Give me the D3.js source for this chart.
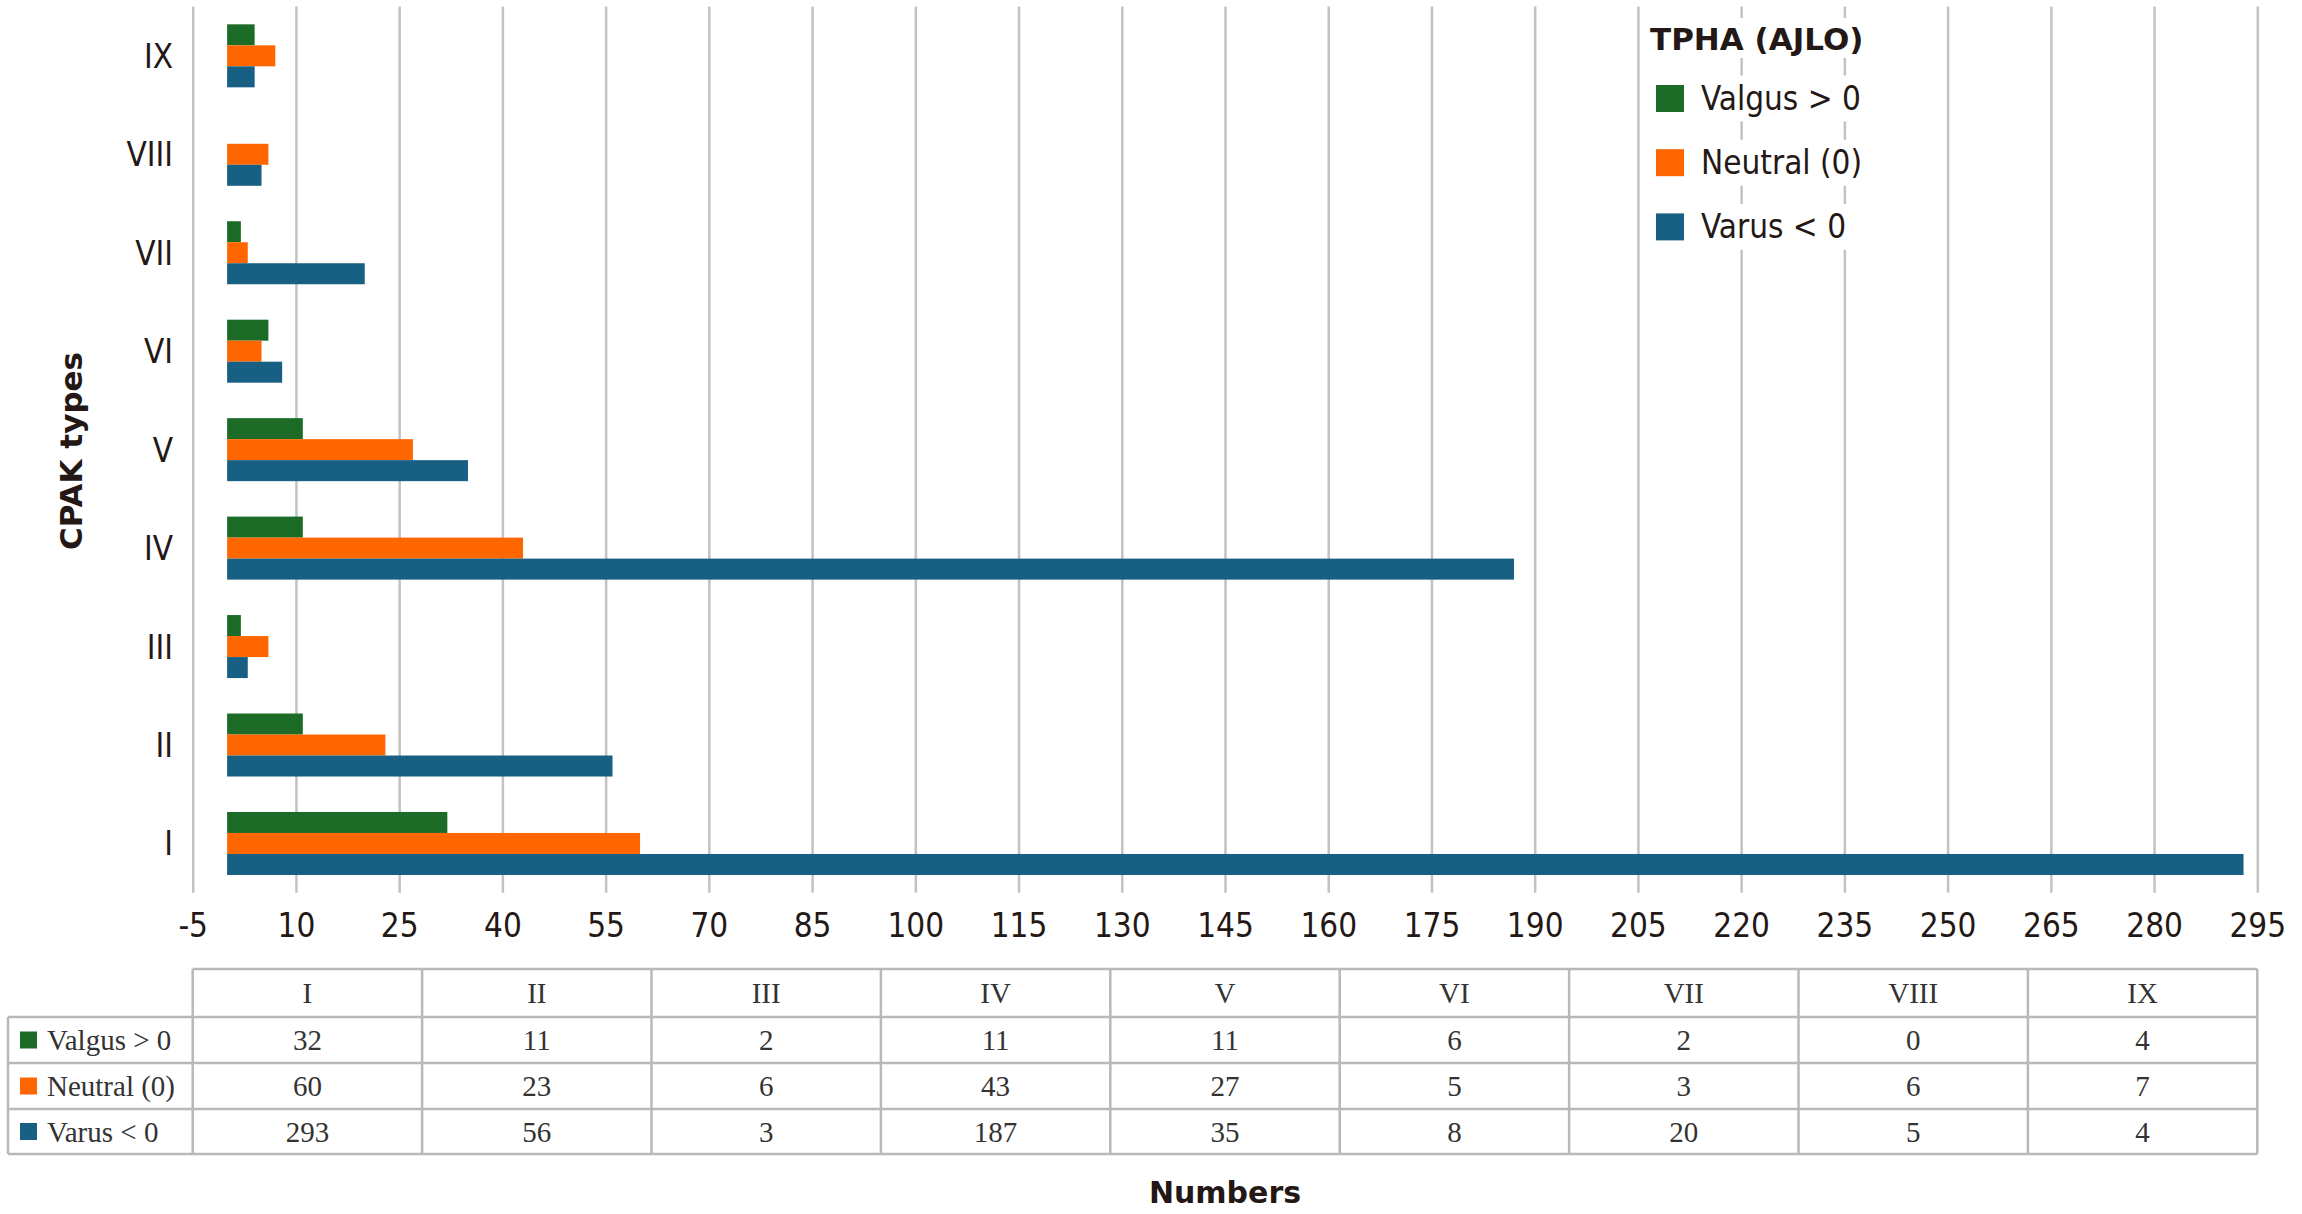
<!DOCTYPE html>
<html>
<head>
<meta charset="utf-8">
<script src="https://cdn.jsdelivr.net/npm/d3@7"></script>
<style>
  html, body { margin: 0; padding: 0; background: #fff; }
  svg { display: block; }
</style>
</head>
<body>
<svg id="chart" width="2302" height="1214"></svg>
<script>
const categories = ["I", "II", "III", "IV", "V", "VI", "VII", "VIII", "IX"];
const seriesNames = ["Valgus > 0", "Neutral (0)", "Varus < 0"];
const valgus  = [32, 11, 2, 11, 11, 6, 2, 0, 4];
const neutral = [60, 23, 6, 43, 27, 5, 3, 6, 7];
const varus   = [293, 56, 3, 187, 35, 8, 20, 5, 4];
const tickValues = [-5, 10, 25, 40, 55, 70, 85, 100, 115, 130, 145, 160, 175, 190, 205, 220, 235, 250, 265, 280, 295];
const legendTitle = "TPHA (AJLO)";
const yTitle = "CPAK types";
const xTitle = "Numbers";

const seriesValues = [valgus, neutral, varus];
const colors = ["#1c6b27", "#ff6600", "#176083"];
const textColor = "#231815";
const gridColor = "#c2c2c2";
const sansFont = "'DejaVu Sans Condensed', 'DejaVu Sans', sans-serif";
const boldFont = "'DejaVu Sans', sans-serif";
const serifFont = "'Liberation Serif', 'DejaVu Serif', serif";

const svg = d3.select("#chart");

const plotTop = 6.6, plotBottom = 892.7;
const x = d3.scaleLinear().domain([-5, 295]).range([192.7, 2257.3]);
const y = d3.scaleBand().domain(categories.slice().reverse()).range([plotTop, plotBottom]).padding(0);
const groupFrac = 0.64;
const inner = d3.scaleBand().domain(seriesNames).range([0, y.bandwidth() * groupFrac]).padding(0);

// gridlines (axis with long ticks)
const xAxis = d3.axisBottom(x).tickValues(tickValues).tickSize(plotBottom - plotTop).tickFormat(d => String(d));
const gAxis = svg.append("g").attr("transform", `translate(0,${plotTop})`).call(xAxis);
gAxis.select(".domain").remove();
gAxis.selectAll(".tick line").attr("stroke", gridColor).attr("stroke-width", 2.5);
gAxis.selectAll(".tick text")
  .attr("y", plotBottom - plotTop + 44)
  .attr("dy", 0)
  .attr("fill", textColor)
  .style("font-family", sansFont)
  .style("font-size", "33px");

// bars
const groups = svg.append("g").selectAll("g")
  .data(categories)
  .join("g")
  .attr("transform", c => `translate(0,${y(c) + (y.bandwidth() * (1 - groupFrac)) / 2})`);

groups.selectAll("rect")
  .data((c) => {
    const i = categories.indexOf(c);
    return seriesNames.map((s, k) => ({ s, k, v: seriesValues[k][i] }));
  })
  .join("rect")
  .attr("x", d => x(0))
  .attr("y", d => inner(d.s))
  .attr("width", d => Math.max(0, x(d.v) - x(0)))
  .attr("height", inner.bandwidth())
  .attr("fill", d => colors[d.k]);

// category labels
svg.append("g").selectAll("text")
  .data(categories)
  .join("text")
  .attr("x", 173)
  .attr("y", c => y(c) + y.bandwidth() / 2 + 12)
  .attr("text-anchor", "end")
  .attr("fill", textColor)
  .style("font-family", sansFont)
  .style("font-size", "33px")
  .text(c => c);

// y title
svg.append("text")
  .attr("transform", `translate(82,451) rotate(-90)`)
  .attr("text-anchor", "middle")
  .attr("fill", textColor)
  .style("font-family", boldFont)
  .style("font-weight", "bold")
  .style("font-size", "31px")
  .text(yTitle);

// x title
svg.append("text")
  .attr("x", (x(-5) + x(295)) / 2)
  .attr("y", 1203)
  .attr("text-anchor", "middle")
  .attr("fill", textColor)
  .style("font-family", boldFont)
  .style("font-weight", "bold")
  .style("font-size", "30px")
  .text(xTitle);

// legend
const legend = svg.append("g").attr("transform", "translate(1650,0)");
legend.append("rect").attr("x", -2).attr("y", 18).attr("width", 222).attr("height", 40).attr("fill", "#fff");
legend.append("text")
  .attr("x", 0).attr("y", 50)
  .attr("fill", textColor)
  .style("font-family", boldFont)
  .style("font-weight", "bold")
  .style("font-size", "31px")
  .text(legendTitle);
const legendRows = legend.selectAll("g.row")
  .data(seriesNames)
  .join("g")
  .attr("class", "row")
  .attr("transform", (d, i) => `translate(0,${98.5 + i * 64.2})`);
legendRows.append("rect").attr("x", 2).attr("y", -23).attr("width", 222).attr("height", 46).attr("fill", "#fff");
legendRows.append("rect")
  .attr("x", 6).attr("y", -13.5).attr("width", 28).attr("height", 27)
  .attr("fill", (d, i) => colors[i]);
legendRows.append("text")
  .attr("x", 51).attr("y", 11.5)
  .attr("fill", textColor)
  .style("font-family", sansFont)
  .style("font-size", "33px")
  .text(d => d);

// data table
const tableRowsY = [969, 1017, 1063, 1109, 1154];
const colBand = d3.scaleBand().domain(categories).range([x(-5), x(295)]).padding(0);
const tbl = svg.append("g");
const lineColor = "#b8b8b8";
const tLeft = 8, tRight = x(295);
// horizontal lines
tbl.append("line").attr("x1", x(-5)).attr("x2", tRight).attr("y1", tableRowsY[0]).attr("y2", tableRowsY[0]);
for (let r = 1; r < tableRowsY.length; r++) {
  tbl.append("line").attr("x1", tLeft).attr("x2", tRight).attr("y1", tableRowsY[r]).attr("y2", tableRowsY[r]);
}
// vertical lines
tbl.append("line").attr("x1", tLeft).attr("x2", tLeft).attr("y1", tableRowsY[1]).attr("y2", tableRowsY[4]);
categories.forEach(c => {
  tbl.append("line").attr("x1", colBand(c)).attr("x2", colBand(c)).attr("y1", tableRowsY[0]).attr("y2", tableRowsY[4]);
});
tbl.append("line").attr("x1", tRight).attr("x2", tRight).attr("y1", tableRowsY[0]).attr("y2", tableRowsY[4]);
tbl.selectAll("line").attr("stroke", lineColor).attr("stroke-width", 2.5);

// header
tbl.selectAll("text.hdr")
  .data(categories)
  .join("text")
  .attr("class", "hdr")
  .attr("x", c => colBand(c) + colBand.bandwidth() / 2)
  .attr("y", (tableRowsY[0] + tableRowsY[1]) / 2 + 10)
  .attr("text-anchor", "middle")
  .attr("fill", "#333")
  .style("font-family", serifFont)
  .style("font-size", "29px")
  .text(c => c);

seriesNames.forEach((s, k) => {
  const cy = (tableRowsY[k + 1] + tableRowsY[k + 2]) / 2;
  tbl.append("rect").attr("x", 20).attr("y", cy - 8.5).attr("width", 17).attr("height", 17).attr("fill", colors[k]);
  tbl.append("text")
    .attr("x", 47).attr("y", cy + 10)
    .attr("fill", "#333")
    .style("font-family", serifFont)
    .style("font-size", "29px")
    .text(s);
  tbl.selectAll(`text.v${k}`)
    .data(seriesValues[k])
    .join("text")
    .attr("class", `v${k}`)
    .attr("x", (v, i) => colBand(categories[i]) + colBand.bandwidth() / 2)
    .attr("y", cy + 10)
    .attr("text-anchor", "middle")
    .attr("fill", "#333")
    .style("font-family", serifFont)
    .style("font-size", "29px")
    .text(v => v);
});
</script>
</body>
</html>
